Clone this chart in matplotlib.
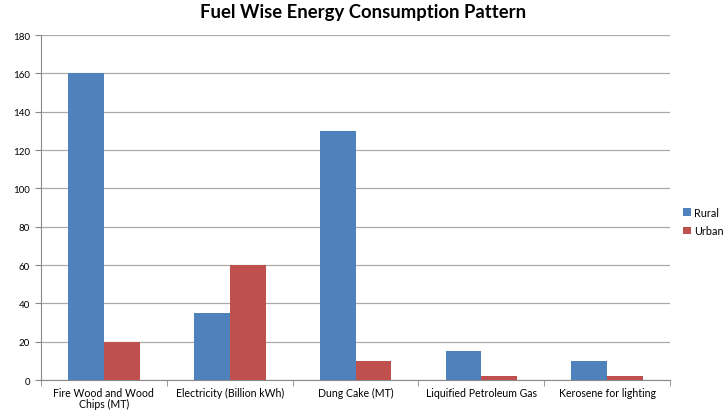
import matplotlib
matplotlib.use("Agg")
import matplotlib.pyplot as plt
import numpy as np

categories = ["Fire Wood and Wood\nChips (MT)", "Electricity (Billion kWh)",
              "Dung Cake (MT)", "Liquified Petroleum Gas", "Kerosene for lighting"]
rural = [160, 35, 130, 15, 10]
urban = [20, 60, 10, 2, 2]
yticks = [0, 20, 40, 60, 80, 100, 120, 140, 160, 180]

plt.rcParams["font.family"] = ["Lato", "DejaVu Sans"]

fig = plt.figure(figsize=(7.26, 4.14), dpi=100)
ax = fig.add_axes([0.0565, 0.0797, 0.8665, 0.8333])

x = np.arange(len(categories))
w = 0.285
ax.bar(x - w / 2, rural, w, color="#4F81BD", label="Rural", zorder=3)
ax.bar(x + w / 2, urban, w, color="#C0504D", label="Urban", zorder=3)

ax.set_xlim(-0.5, len(categories) - 0.5)
ax.set_ylim(0, 180)
ax.set_yticks(yticks)
ax.tick_params(axis="y", labelsize=7, length=4, color="#888888", pad=4)
ax.grid(axis="y", color="#AAAAAA", linewidth=0.9, zorder=0)

ax.set_xticks(x)
ax.set_xticklabels(categories, fontsize=7.6, linespacing=1.05)
ax.tick_params(axis="x", length=0, pad=5)
ax.set_xticks(np.arange(len(categories) + 1) - 0.5, minor=True)
ax.tick_params(axis="x", which="minor", length=4, color="#888888")

for side in ("top", "right"):
    ax.spines[side].set_visible(False)
ax.spines["left"].set_color("#888888")
ax.spines["bottom"].set_color("#888888")

fig.suptitle("Fuel Wise Energy Consumption Pattern", fontsize=13.3, fontweight="bold",
             y=0.99)

ax.legend(loc="center left", bbox_to_anchor=(1.005, 0.46), frameon=False,
          fontsize=7.8, handlelength=0.7, handleheight=0.7, handletextpad=0.3,
          labelspacing=0.7)

fig.savefig("out.png", dpi=100)
